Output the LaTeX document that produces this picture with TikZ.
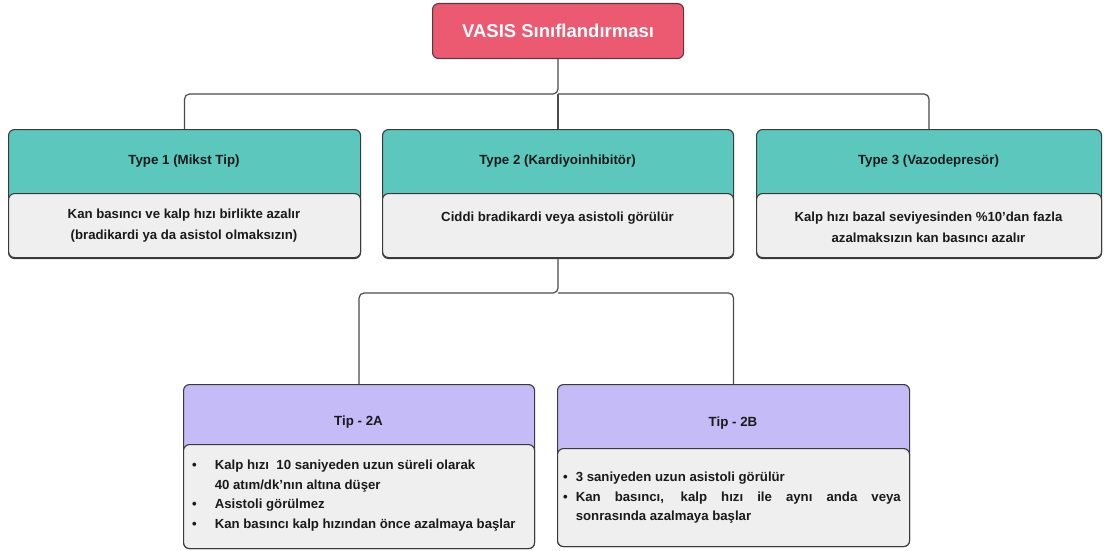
\documentclass[tikz,border=0pt]{standalone}
\usepackage{fontspec}
\setmainfont{Liberation Sans}
\definecolor{pinkc}{HTML}{EC5A72}
\definecolor{pinkb}{HTML}{5A3840}
\definecolor{tealc}{HTML}{5CC8BD}
\definecolor{grayc}{HTML}{EFEFEF}
\definecolor{lavc}{HTML}{C5BBF7}
\definecolor{edgec}{HTML}{3A3A3A}
\definecolor{connc}{HTML}{4A4A4A}
\definecolor{txtc}{HTML}{1A1A1A}
\tikzset{
  frame/.style={draw=edgec, line width=1.1pt, rounded corners=6pt, anchor=north west, inner sep=0pt},
  bodybox/.style={draw=edgec, line width=1.1pt, rounded corners=6pt, fill=grayc, anchor=north west, inner sep=0pt},
  hdrtxt/.style={font=\bfseries\fontsize{13.3}{15}\selectfont, text=txtc, inner sep=0pt},
  bodytxt/.style={font=\bfseries\fontsize{13.2}{21}\selectfont, text=txtc, inner sep=0pt, align=center},
  listtxt/.style={font=\bfseries\fontsize{13.2}{19.5}\selectfont, text=txtc, inner sep=0pt, align=left, anchor=north west},
  conn/.style={draw=connc, line width=1.2pt, rounded corners=5pt}
}
\begin{document}
\begin{tikzpicture}[x=1pt,y=-1pt]
\useasboundingbox (0,0) rectangle (1104,551);
% title
\node[frame, draw=pinkb, fill=pinkc, minimum width=251, minimum height=55] (title) at (432,3) {};
\node[font=\bfseries\fontsize{18.5}{22}\selectfont, text=white] (titletxt) at (title.center) {VASIS Sınıflandırması};
% Type boxes
\node[frame, fill=tealc, minimum width=352, minimum height=129] (t1) at (8,129) {};
\node[bodybox, minimum width=352, minimum height=64] (b1) at (8,193) {};
\node[hdrtxt] (h1) at (184,161) {Type 1 (Mikst Tip)};
\node[bodytxt] (x1) at (184,226) {Kan basıncı ve kalp hızı birlikte azalır\\(bradikardi ya da asistol olmaksızın)};

\node[frame, fill=tealc, minimum width=351, minimum height=129] (t2) at (382,129) {};
\node[bodybox, minimum width=351, minimum height=64] (b2) at (382,193) {};
\node[hdrtxt] (h2) at (557.5,161) {Type 2 (Kardiyoinhibitör)};
\node[bodytxt] (x2) at (557.5,218) {Ciddi bradikardi veya asistoli görülür};

\node[frame, fill=tealc, minimum width=345, minimum height=129] (t3) at (756,129) {};
\node[bodybox, minimum width=345, minimum height=64] (b3) at (756,193) {};
\node[hdrtxt] (h3) at (928.5,161) {Type 3 (Vazodepresör)};
\node[bodytxt] (x3) at (928.5,227) {Kalp hızı bazal seviyesinden \%10'dan fazla\\azalmaksızın kan basıncı azalır};

% Tip boxes
\node[frame, fill=lavc, minimum width=351, minimum height=164] (s1) at (183,384) {};
\node[bodybox, minimum width=351, minimum height=104] (c1) at (183,444) {};
\node[hdrtxt] (g1) at (358.5,422) {Tip - 2A};
\node[listtxt] (y1) at (192,456) {%
\begin{tabular}{@{}l@{\hspace{18pt}}l@{}}
\textbullet & Kalp hızı\ \ 10 saniyeden uzun süreli olarak\\
 & 40 atım/dk'nın altına düşer\\
\textbullet & Asistoli görülmez\\
\textbullet & Kan basıncı kalp hızından önce azalmaya başlar
\end{tabular}};

\node[frame, fill=lavc, minimum width=352, minimum height=162] (s2) at (557,384) {};
\node[bodybox, minimum width=352, minimum height=98] (c2) at (557,448) {};
\node[hdrtxt] (g2) at (733,423) {Tip - 2B};
\node[listtxt] (y2) at (563,468) {%
\begin{tabular}{@{}l@{\hspace{8pt}}l@{}}
\textbullet & 3 saniyeden uzun asistoli görülür\\
\textbullet & \makebox[325pt][s]{Kan basıncı, kalp hızı ile aynı anda veya}\\
 & sonrasında azalmaya başlar
\end{tabular}};

% connectors
\coordinate (j1) at (title.south |- 0,94);
\coordinate (j2) at (t2.south |- 0,293);
\draw[conn] (title.south) -- (j1) -| (t1.north);
\draw[conn] (j1) -| (t3.north);
\draw[conn] (j1) -- (j1 |- t2.north);
\draw[conn] (t2.south) -- (j2) -| (s1.north);
\draw[conn] (j2) -| (s2.north);
\end{tikzpicture}
\end{document}
